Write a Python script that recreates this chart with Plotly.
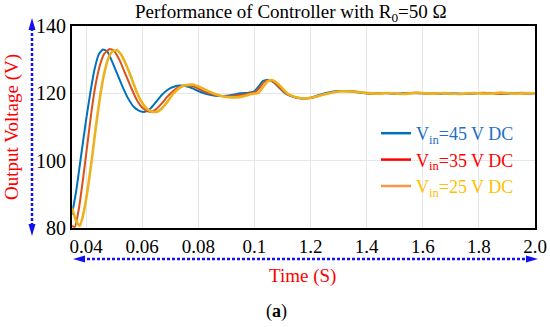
import plotly.graph_objects as go

# ---------------- data ----------------
T45 = [0.035, 0.0365, 0.038, 0.040, 0.0415, 0.043, 0.0445, 0.046, 0.0475, 0.049, 0.051, 0.053,
       0.055, 0.057, 0.059, 0.061, 0.063, 0.065, 0.067, 0.069, 0.071, 0.074, 0.077, 0.080,
       0.083, 0.086, 0.089, 0.092, 0.095, 0.098, 0.100, 0.1015, 0.103, 0.105, 0.107, 0.109,
       0.111, 0.114, 0.117, 0.120, 0.123, 0.126, 0.130, 0.134, 0.138, 0.142, 0.146, 0.150,
       0.155, 0.160, 0.165, 0.170, 0.175, 0.180, 0.185, 0.190, 0.195, 0.200]
V45 = [84, 91, 100, 112, 120, 127, 131.5, 133, 132.5, 130, 126, 122,
       118.5, 116, 114.8, 114.5, 115.5, 117.5, 119.5, 121, 121.9, 122.3, 121.8, 120.7,
       119.8, 119.3, 119.2, 119.5, 120, 120.2, 120.6, 122, 123.6, 124, 123.2, 121.5,
       120, 118.9, 118.5, 118.7, 119.5, 120.2, 120.7, 120.6, 120.2, 119.9, 120.1, 119.9,
       120.1, 120, 119.8, 120.1, 119.8, 120, 120.1, 119.9, 120.2, 120]

T35 = [0.035, 0.036, 0.0375, 0.039, 0.0405, 0.042, 0.0435, 0.045, 0.0465, 0.0485, 0.050, 0.052,
       0.054, 0.056, 0.058, 0.060, 0.062, 0.0635, 0.065, 0.067, 0.069, 0.071, 0.073, 0.076,
       0.079, 0.082, 0.085, 0.088, 0.091, 0.094, 0.097, 0.100, 0.1017, 0.1033, 0.1052, 0.1072,
       0.1092, 0.1112, 0.1142, 0.1172, 0.1202, 0.1232, 0.1262, 0.130, 0.134, 0.138, 0.142,
       0.147, 0.152, 0.157, 0.162, 0.167, 0.172, 0.177, 0.182, 0.187, 0.192, 0.196, 0.200]
V35 = [80.6, 80.3, 86, 95, 105, 115, 123, 128.5, 131.8, 133.2, 132.6, 129.8,
       125.8, 121.8, 118.2, 115.8, 114.7, 114.6, 115.3, 117, 119, 120.7, 121.8, 122.4,
       121.8, 120.6, 119.7, 119.2, 119.1, 119.4, 119.8, 120.3, 121.5, 123.3, 123.8, 123.1,
       121.5, 120, 118.9, 118.5, 118.6, 119.3, 120, 120.6, 120.7, 120.3, 119.9,
       120.1, 119.8, 120.2, 119.9, 120.1, 119.8, 120, 120.2, 119.8, 120.1, 119.9, 120]

T25 = [0.035, 0.0365, 0.0378, 0.039, 0.0405, 0.042, 0.0435, 0.045, 0.0465, 0.048, 0.0495, 0.051,
       0.0525, 0.054, 0.056, 0.058, 0.060, 0.062, 0.064, 0.0655, 0.067, 0.069, 0.071, 0.073,
       0.075, 0.078, 0.081, 0.084, 0.087, 0.090, 0.093, 0.096, 0.099, 0.1015, 0.103, 0.1048,
       0.1065, 0.1085, 0.1105, 0.1125, 0.1155, 0.1185, 0.1215, 0.1245, 0.1275, 0.131, 0.135,
       0.139, 0.143, 0.148, 0.153, 0.158, 0.163, 0.168, 0.173, 0.178, 0.183, 0.188, 0.193, 0.197, 0.200]
V25 = [86, 82, 80.6, 84, 91, 100, 110, 119, 126, 130.5, 132.5, 132.8,
       131.5, 129, 125, 120.5, 117.2, 115.2, 114.5, 114.6, 115.5, 117.5, 119.8, 121.4,
       122.3, 122.6, 121.7, 120.5, 119.5, 118.9, 118.8, 119.1, 119.8, 120.1, 121.8, 123.6,
       123.9, 122.8, 121, 119.6, 118.7, 118.5, 118.9, 119.6, 120.2, 120.6, 120.5,
       120.2, 119.9, 120.1, 119.8, 120.2, 119.9, 120.1, 119.8, 120.1, 119.9, 120.2, 119.9, 120.1, 120]

TICK_VALS = [0.04, 0.06, 0.08, 0.10, 0.12, 0.14, 0.16, 0.18, 0.20]
TICK_TEXT = ["0.04", "0.06", "0.08", "0.1", "1.2", "1.4", "1.6", "1.8", "2.0"]
Y_TICKS = [80, 100, 120, 140]

SERIES = [
    ("45", T45, V45, "#0072BD", 2.0, "#0072BD", "#1f6fc5"),
    ("35", T35, V35, "#D95319", 2.0, "#FF0000", "#FF0000"),
    ("25", T25, V25, "#EDB120", 2.6, "#F79646", "#FFC000"),
]

FONT = "Liberation Serif, Times New Roman, serif"

fig = go.Figure()
for name, t, v, col, w, lcol, tcol in SERIES:
    fig.add_trace(go.Scatter(x=t, y=v, mode="lines", line=dict(color=col, width=w, shape="spline", smoothing=0.5),
                             showlegend=False, hoverinfo="skip"))
for name, t, v, col, w, lcol, tcol in SERIES:
    fig.add_trace(go.Scatter(x=[None], y=[None], mode="lines", line=dict(color=lcol, width=2.5),
                             name=f'<span style="color:{tcol}">V<sub>in</sub>={name} V DC</span>'))

# plot-area pixel geometry
L, R, T, B = 72, 535, 26, 228
W, H = R - L, B - T
def px(x):
    return (x - L) / W
def py(y):
    return (B - y) / H

BLUE = "#1010F0"
shapes = []
# vertical double arrow
shapes.append(dict(type="line", xref="paper", yref="paper", x0=px(32), x1=px(32), y0=py(28), y1=py(226),
                   line=dict(color=BLUE, width=2.5, dash="3px,2px")))
shapes.append(dict(type="path", xref="paper", yref="paper",
                   path=f"M {px(32)} {py(18)} L {px(28.5)} {py(30)} L {px(35.5)} {py(30)} Z",
                   fillcolor=BLUE, line=dict(width=0)))
shapes.append(dict(type="path", xref="paper", yref="paper",
                   path=f"M {px(32)} {py(236)} L {px(28.5)} {py(224)} L {px(35.5)} {py(224)} Z",
                   fillcolor=BLUE, line=dict(width=0)))
# horizontal double arrow
shapes.append(dict(type="line", xref="paper", yref="paper", x0=px(82), x1=px(528), y0=py(259), y1=py(259),
                   line=dict(color=BLUE, width=2.5, dash="3px,2px")))
shapes.append(dict(type="path", xref="paper", yref="paper",
                   path=f"M {px(73)} {py(259)} L {px(85)} {py(255.5)} L {px(85)} {py(262.5)} Z",
                   fillcolor=BLUE, line=dict(width=0)))
shapes.append(dict(type="path", xref="paper", yref="paper",
                   path=f"M {px(538)} {py(259)} L {px(526)} {py(255.5)} L {px(526)} {py(262.5)} Z",
                   fillcolor=BLUE, line=dict(width=0)))

annotations = [
    dict(text="Output Voltage (V)", xref="paper", yref="paper", x=px(12), y=py(127), textangle=-90,
         showarrow=False, font=dict(family=FONT, size=19, color="#FF0000"), xanchor="center", yanchor="middle"),
    dict(text="Time (S)", xref="paper", yref="paper", x=px(302), y=py(276), showarrow=False,
         font=dict(family=FONT, size=19, color="#FF0000"), xanchor="center", yanchor="middle"),
    dict(text="(<b>a</b>)", xref="paper", yref="paper", x=px(276), y=py(311), showarrow=False,
         font=dict(family=FONT, size=18, color="black"), xanchor="center", yanchor="middle"),
    dict(text="Performance of Controller with R<sub>0</sub>=50 Ω", xref="paper", yref="paper",
         x=px(291), y=py(13), showarrow=False,
         font=dict(family=FONT, size=19, color="black"), xanchor="center", yanchor="middle"),
]

fig.update_layout(
    width=550, height=327,
    margin=dict(l=L, r=550 - R, t=T, b=327 - B, autoexpand=False),
    paper_bgcolor="white", plot_bgcolor="white",
    font=dict(family=FONT, color="black"),
    shapes=shapes, annotations=annotations,
    legend=dict(x=px(376), y=py(115), xanchor="left", yanchor="top", bgcolor="rgba(0,0,0,0)",
                font=dict(family=FONT, size=18), tracegroupgap=0, itemwidth=30),
    xaxis=dict(range=[0.035, 0.20], tickvals=TICK_VALS, ticktext=TICK_TEXT, showgrid=True,
               gridcolor="#E6E6E6", gridwidth=1, showline=True, linecolor="black", linewidth=2,
               mirror=True, ticks="", tickfont=dict(family=FONT, size=19), zeroline=False,
               automargin=False, ticklabelstandoff=0),
    yaxis=dict(range=[80, 140], tickvals=Y_TICKS, showgrid=True, gridcolor="#E6E6E6", gridwidth=1,
               showline=True, linecolor="black", linewidth=2, mirror=True, ticks="",
               tickfont=dict(family=FONT, size=20), zeroline=False, automargin=False,
               ticklabelstandoff=0),
)

fig.write_html("out.html", config={"displayModeBar": False},
               post_script="document.body.style.margin='0';document.body.style.padding='0';")
